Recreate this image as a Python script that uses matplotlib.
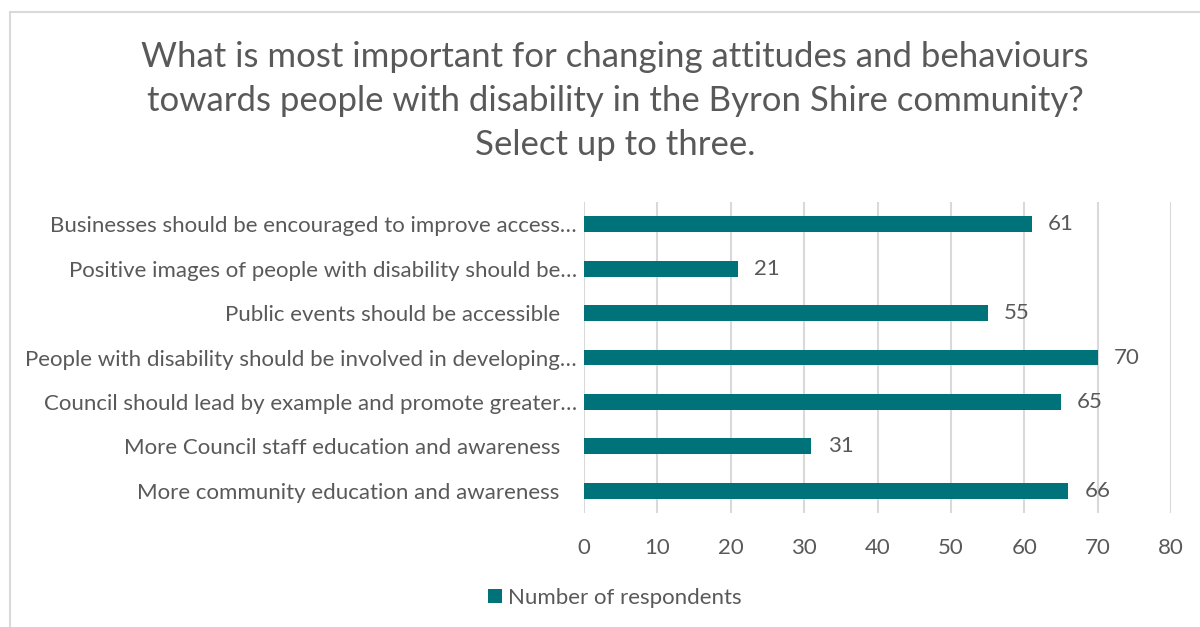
import matplotlib
matplotlib.use('Agg')
import matplotlib.pyplot as plt
from matplotlib.patches import Rectangle

plt.rcParams['font.family'] = ['Lato', 'DejaVu Sans']

categories = [
    'Businesses should be encouraged to improve access…',
    'Positive images of people with disability should be…',
    'Public events should be accessible   ',
    'People with disability should be involved in developing…',
    'Council should lead by example and promote greater…',
    'More Council staff education and awareness   ',
    'More community education and awareness   ',
]
respondents = [61, 21, 55, 70, 65, 31, 66]
x_ticks = [0, 10, 20, 30, 40, 50, 60, 70, 80]
title = ('What is most important for changing attitudes and behaviours\n'
         'towards people with disability in the Byron Shire community?\n'
         'Select up to three.')
legend_label = 'Number of respondents'

bar_color = '#00727A'
text_color = '#595959'
grid_color = '#D9D9D9'
label_size = 16

fig = plt.figure(figsize=(12, 6.27), dpi=100)
fig.patch.set_facecolor('white')

# chart area border (runs off the right and bottom edges)
fig.patches.append(Rectangle((10 / 1200, -0.1), 1.2, 1 - 12 / 627 + 0.1,
                             transform=fig.transFigure, fill=False,
                             edgecolor=grid_color, linewidth=1.5))

ax = fig.add_axes([584 / 1200, 1 - 513 / 627, (1171 - 584) / 1200, (513 - 202) / 627])

y_pos = list(range(len(categories)))
bars = ax.barh(y_pos, respondents, height=0.36, color=bar_color,
               label=legend_label, zorder=3)
ax.set_ylim(len(categories) - 0.5, -0.5)
ax.set_xlim(0, 80)
ax.set_xticks(x_ticks)
ax.set_yticks(y_pos)
ax.set_yticklabels(categories)

for y, v in zip(y_pos, respondents):
    ax.text(v + 2.2, y, str(v), va='center', ha='left',
            fontsize=label_size, color=text_color)

ax.grid(axis='x', color=grid_color, linewidth=1.5, zorder=0)
ax.tick_params(axis='both', length=0, labelsize=label_size, colors=text_color)
ax.tick_params(axis='x', pad=18)
ax.tick_params(axis='y', pad=5)
for s in ax.spines.values():
    s.set_visible(False)

fig.text(615 / 1200, 1 - 101 / 627, title, ha='center', va='center',
         fontsize=25, color=text_color, linespacing=1.45)

fig.legend(handles=[bars], labels=[legend_label], loc='center',
           bbox_to_anchor=(615 / 1200, 1 - 598 / 627), frameon=False,
           fontsize=label_size, labelcolor=text_color, handlelength=0.6,
           handleheight=0.6, handletextpad=0.3)

fig.savefig('out.png', dpi=100, facecolor='white')
